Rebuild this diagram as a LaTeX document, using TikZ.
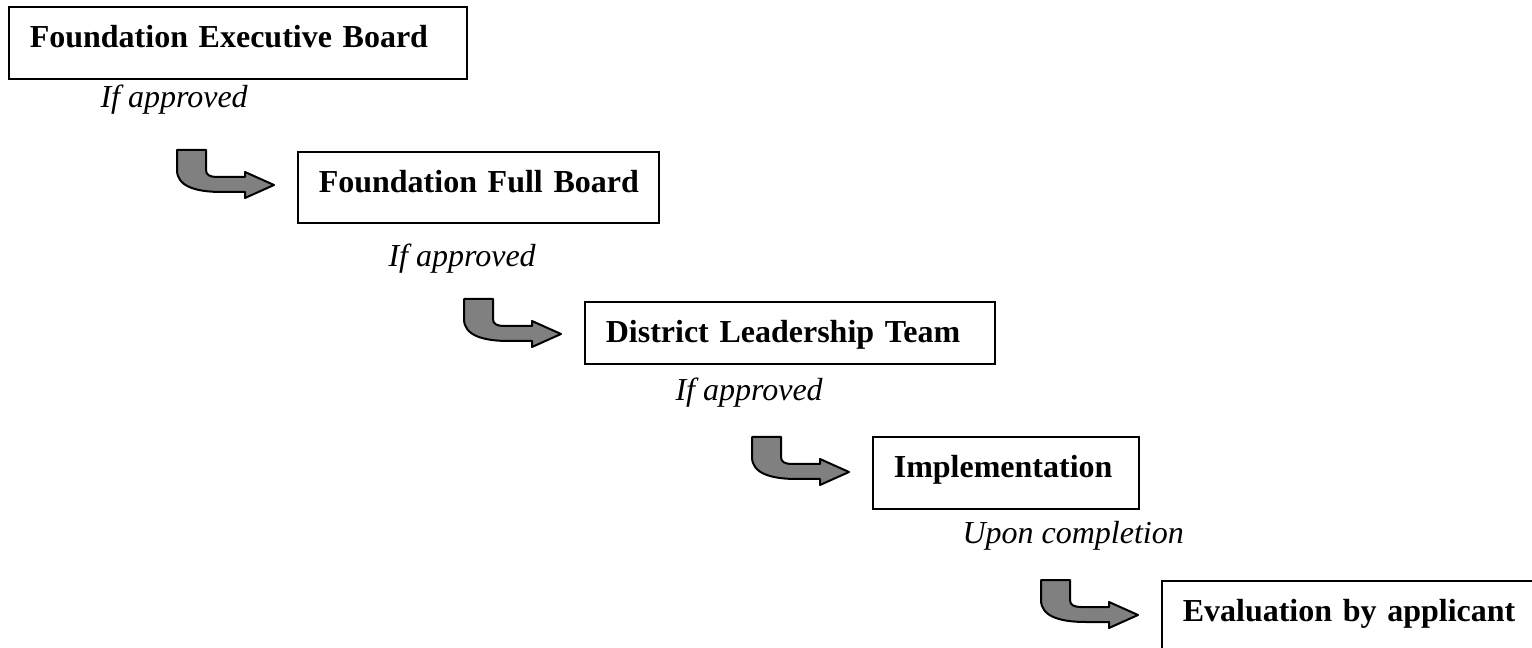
\documentclass[tikz,border=0pt]{standalone}
\usepackage{fontspec}
\setmainfont{Liberation Serif}
\usetikzlibrary{calc}

\tikzset{every picture/.style={line width=0.75pt}}
\tikzset{
	stagebox/.style={draw, line width=1.2pt, anchor=north west, inner xsep=0pt, inner ysep=0pt, align=left, text height=30.75pt, font=\fontsize{24}{28}\selectfont\bfseries, execute at begin node={\hspace*{15.75pt}}},
	note/.style={anchor=base west, inner sep=0pt, font=\fontsize{24}{28}\selectfont\itshape},
	bentarrow/.pic={
		\draw [fill={rgb, 255:red, 128; green, 128; blue, 128 }, line width=1.5pt, line join=round] (0,0) -- (29,0) -- (29,-20) .. controls (29,-25) and (33,-27) .. (40,-27) -- (68,-27) -- (68,-22) -- (97,-35) -- (68,-48) -- (68,-42) -- (45,-42) .. controls (18,-42) and (0,-36) .. (0,-20) -- cycle ;
	}
}

\begin{document}
\begin{tikzpicture}[x=0.75pt,y=0.75pt,yscale=-1,xscale=1]
		\useasboundingbox (0,0) rectangle (1532,648);
		\clip (0,0) rectangle (1532,648);
		
		%Stages
		\node [stagebox, text width=343.5pt, text depth=23.25pt] (execboard) at (8,6) {Foundation Executive Board};
		\node [stagebox, text width=270.75pt, text depth=22.5pt] (fullboard) at (297,151) {Foundation Full Board};
		\node [stagebox, text width=307.5pt, text depth=15.75pt] (leadteam) at (584,301) {District Leadership Team};
		\node [stagebox, text width=199.5pt, text depth=23.25pt] (implement) at (872,436) {Implementation};
		\node [stagebox, text width=300pt, text depth=23.25pt] (evaluation) at (1161,580) {Evaluation by applicant};
		
		%Conditions
		\node [note] (approved1) at (100,108) {If approved};
		\node [note] (approved2) at (388,267) {If approved};
		\node [note] (approved3) at (675,401) {If approved};
		\node [note] (completion) at (962,543) {Upon completion};
		
		%Bent arrows
		\pic at ($(fullboard.north west)+(-120,-1)$) {bentarrow};
		\pic at ($(leadteam.north west)+(-120,-2)$) {bentarrow};
		\pic at ($(implement.north west)+(-120,1)$) {bentarrow};
		\pic at ($(evaluation.north west)+(-120,0)$) {bentarrow};
		
\end{tikzpicture}
\end{document}
